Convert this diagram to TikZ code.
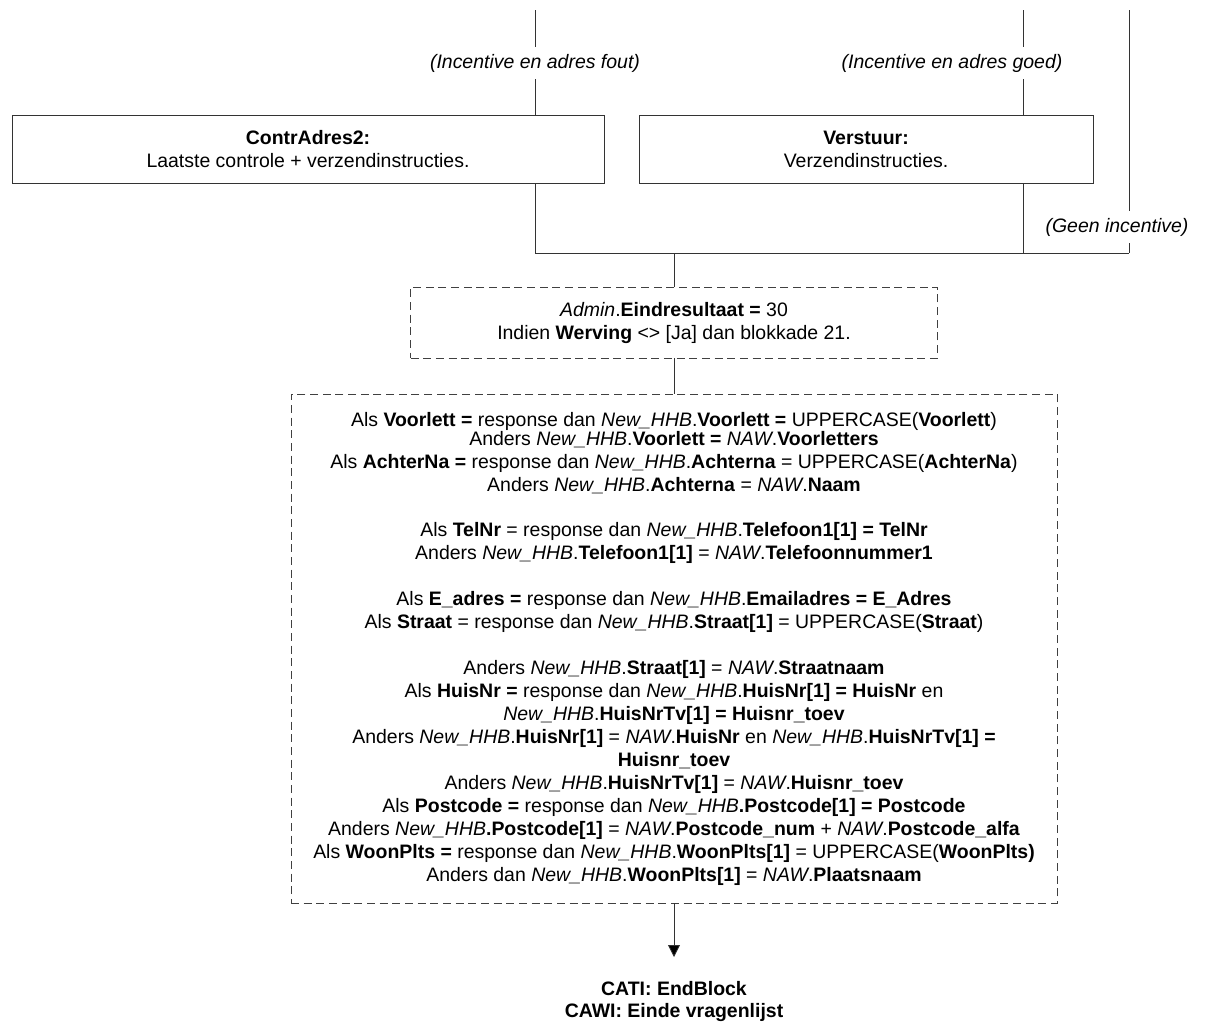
\documentclass[tikz,border=0pt]{standalone}
\usepackage{fontspec}
\setmainfont{Liberation Sans}
\usetikzlibrary{arrows.meta}

\newcommand{\dfont}{\fontsize{14.6}{17.25}\selectfont}

\tikzset{
  stap/.style={draw=black!80, line width=0.6pt, minimum height=51pt, inner sep=0pt, align=center},
  check/.style={draw=black!75, dash pattern=on 6pt off 3.5pt, line width=0.6pt, inner sep=0pt, align=center},
  cond/.style={font=\dfont\itshape, inner sep=5pt},
  lijn/.style={draw=black!80, line width=0.6pt}
}

\begin{document}
\begin{tikzpicture}[x=0.75pt, y=-0.75pt, font=\dfont]

	\useasboundingbox (0, 0) rectangle (1214, 1026);

	\coordinate (t1) at (535, 10);
	\coordinate (t2) at (1023, 10);
	\coordinate (t3) at (1129, 10);

	\node (lFout) [cond] at (535, 63) {(Incentive en adres fout)};
	\node (lGoed) [cond] at (952, 63) {(Incentive en adres goed)};
	\node (lGeen) [cond] at (1117, 227) {(Geen incentive)};

	\node (contr) [stap, minimum width=444pt] at (308, 149)
		{\textbf{ContrAdres2:}\\Laatste controle + verzendinstructies.};
	\node (verst) [stap, minimum width=340.5pt] at (866, 149)
		{\textbf{Verstuur:}\\Verzendinstructies.};

	\coordinate (j1) at (535, 253);
	\coordinate (j2) at (1023, 253);
	\coordinate (j3) at (1129, 253);
	\coordinate (jm) at (674, 253);

	\node (admin) [check, minimum width=395.25pt, minimum height=53.25pt] at (674, 322.5)
		{\textit{Admin}.\textbf{Eindresultaat =} 30\\
		 Indien \textbf{Werving} <> [Ja] dan blokkade 21.};

	\node (naw) [check, minimum width=574.5pt, minimum height=381.75pt] at (674, 648.5)
		{Als \textbf{Voorlett =} response dan \textit{New\_HHB}.\textbf{Voorlett =} UPPERCASE(\textbf{Voorlett})\\[-3pt]
		 Anders \textit{New\_HHB}.\textbf{Voorlett =} \textit{NAW}.\textbf{Voorletters}\\
		 Als \textbf{AchterNa =} response dan \textit{New\_HHB}.\textbf{Achterna} = UPPERCASE(\textbf{AchterNa})\\
		 Anders \textit{New\_HHB}.\textbf{Achterna} = \textit{NAW}.\textbf{Naam}\\[17pt]
		 Als \textbf{TelNr} = response dan \textit{New\_HHB}.\textbf{Telefoon1[1] = TelNr}\\
		 Anders \textit{New\_HHB}.\textbf{Telefoon1[1]} = \textit{NAW}.\textbf{Telefoonnummer1}\\[17pt]
		 Als \textbf{E\_adres =} response dan \textit{New\_HHB}.\textbf{Emailadres = E\_Adres}\\
		 Als \textbf{Straat} = response dan \textit{New\_HHB}.\textbf{Straat[1]} = UPPERCASE(\textbf{Straat})\\[17pt]
		 Anders \textit{New\_HHB}.\textbf{Straat[1]} = \textit{NAW}.\textbf{Straatnaam}\\
		 Als \textbf{HuisNr =} response dan \textit{New\_HHB}.\textbf{HuisNr[1] = HuisNr} en\\
		 \textit{New\_HHB}.\textbf{HuisNrTv[1] = Huisnr\_toev}\\
		 Anders \textit{New\_HHB}.\textbf{HuisNr[1]} = \textit{NAW}.\textbf{HuisNr} en \textit{New\_HHB}.\textbf{HuisNrTv[1] =}\\
		 \textbf{Huisnr\_toev}\\
		 Anders \textit{New\_HHB}.\textbf{HuisNrTv[1]} = \textit{NAW}.\textbf{Huisnr\_toev}\\
		 Als \textbf{Postcode =} response dan \textit{New\_HHB}\textbf{.Postcode[1] = Postcode}\\
		 Anders \textit{New\_HHB}\textbf{.Postcode[1]} = \textit{NAW}.\textbf{Postcode\_num} + \textit{NAW}.\textbf{Postcode\_alfa}\\
		 Als \textbf{WoonPlts =} response dan \textit{New\_HHB}.\textbf{WoonPlts[1]} = UPPERCASE(\textbf{WoonPlts)}\\
		 Anders dan \textit{New\_HHB}.\textbf{WoonPlts[1]} = \textit{NAW}.\textbf{Plaatsnaam}};

	\coordinate (pEnd) at (674, 957);
	\node (einde) [font=\fontsize{14.6}{16.5}\selectfont\bfseries, align=center] at (674, 1001)
		{CATI: EndBlock\\CAWI: Einde vragenlijst};

	\path[lijn]
	(t1) edge (lFout)
	(lFout) edge (lFout |- contr.north)
	(t2) edge (t2 |- lGoed.north)
	(t2 |- lGoed.south) edge (t2 |- verst.north)
	(t3) edge (t3 |- lGeen.north)
	(t3 |- lGeen.south) edge (j3)
	(contr.south -| j1) edge (j1)
	(verst.south -| j2) edge (j2)
	(j1) edge (j3)
	(jm) edge (admin)
	(admin) edge (naw)
	(naw) edge[-{Triangle[length=9pt, width=9pt]}] (pEnd);

\end{tikzpicture}
\end{document}
